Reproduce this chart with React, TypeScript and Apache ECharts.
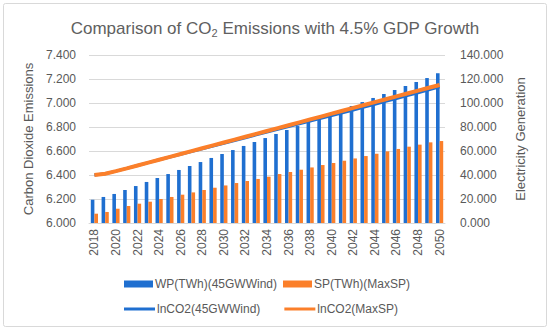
import React, { useEffect, useRef } from "react";
import * as echarts from "echarts";

const years: string[] = [];
for (let y = 2018; y <= 2050; y++) years.push(String(y));

const wpWind = [
  19400, 21700, 24200, 27500, 30800, 34200, 37500, 40800, 44200, 47500, 50800,
  54200, 57500, 60800, 64200, 67500, 70800, 74200, 77500, 80800, 84200, 87500,
  90800, 94200, 97500, 100800, 104200, 107500, 110800, 114200, 117500, 120800, 124800,
];
const spMax = [
  7750, 9200, 11900, 14200, 16100, 17750, 20000, 21700, 23600, 25500, 27500,
  29400, 31300, 33300, 35000, 36700, 38600, 40800, 42500, 44400, 46300, 48300,
  50000, 51900, 53800, 55800, 57700, 59700, 61700, 63600, 65300, 67200, 68300,
];
const lnCO2Max = [
  6.4, 6.411, 6.432, 6.455, 6.479, 6.503, 6.527, 6.551, 6.575, 6.599, 6.623,
  6.647, 6.671, 6.695, 6.719, 6.743, 6.767, 6.791, 6.815, 6.839, 6.863, 6.887,
  6.911, 6.935, 6.959, 6.983, 7.007, 7.031, 7.055, 7.079, 7.103, 7.127, 7.15,
];
const lnCO2Wind = [
  6.4, 6.411, 6.432, 6.455, 6.479, 6.503, 6.527, 6.55, 6.573, 6.596, 6.619,
  6.642, 6.665, 6.688, 6.711, 6.734, 6.757, 6.78, 6.803, 6.826, 6.849, 6.872,
  6.895, 6.918, 6.942, 6.966, 6.99, 7.014, 7.038, 7.062, 7.086, 7.11, 7.134,
];

const BLUE = "#1f6fd0";
const ORANGE = "#fb7f2a";
const FONT = "Liberation Sans";
const GRAY = "#595959";

export default function App() {
  const ref = useRef<HTMLDivElement>(null);
  useEffect(() => {
    if (!ref.current) return;
    const chart = echarts.init(ref.current, undefined, { renderer: "svg" });
    chart.setOption({
      animation: false,
      backgroundColor: "#fff",
      textStyle: { fontFamily: FONT },
      title: {
        text: "Comparison of CO{sub|2} Emissions with 4.5% GDP Growth",
        left: "center",
        top: 14,
        textStyle: {
          fontFamily: FONT,
          fontSize: 17,
          fontWeight: "normal",
          color: "#606060",
          rich: {
            sub: { fontFamily: FONT, fontSize: 11, color: "#606060", verticalAlign: "bottom", padding: [8, 0, 0, 0] },
          },
        },
      },
      graphic: [
        {
          type: "rect",
          shape: { x: 3.5, y: 3.5, width: 543, height: 323, r: 2 },
          style: { fill: "none", stroke: "#d9d9d9", lineWidth: 1 },
          silent: true,
        },
      ],
      legend: [
        {
          left: 119,
          top: 273,
          itemWidth: 29,
          itemHeight: 7,
          itemGap: 6,
          textStyle: { fontFamily: FONT, fontSize: 12, color: GRAY, padding: [0, 0, 0, -3] },
          data: [
            { name: "WP(TWh)(45GWWind)", icon: "rect" },
            { name: "SP(TWh)(MaxSP)", icon: "rect" },
          ],
        },
        {
          left: 119,
          top: 298,
          itemWidth: 31,
          itemHeight: 3,
          itemGap: 24,
          textStyle: { fontFamily: FONT, fontSize: 12, color: GRAY, padding: [0, 0, 0, -3] },
          data: [
            { name: "lnCO2(45GWWind)", icon: "rect" },
            { name: "lnCO2(MaxSP)", icon: "rect" },
          ],
        },
      ],
      grid: { left: 89, right: 105, top: 55, bottom: 108 },
      xAxis: {
        type: "category",
        data: years,
        axisLine: { lineStyle: { color: "#d9d9d9" } },
        axisTick: { show: false },
        axisLabel: {
          interval: 1,
          rotate: 90,
          color: GRAY,
          fontFamily: FONT,
          fontSize: 12,
          margin: 6,
        },
      },
      yAxis: [
        {
          type: "value",
          min: 6,
          max: 7.4,
          interval: 0.2,
          name: "Carbon Dioxide Emissions",
          nameLocation: "middle",
          nameRotate: 90,
          nameGap: 47,
          nameTextStyle: { fontFamily: FONT, fontSize: 13, color: GRAY },
          axisLabel: {
            color: GRAY,
            fontFamily: FONT,
            fontSize: 12,
            margin: 13,
            formatter: (v: number) => v.toFixed(3),
          },
          splitLine: { lineStyle: { color: "#d9d9d9" } },
          axisLine: { show: false },
          axisTick: { show: false },
        },
        {
          type: "value",
          min: 0,
          max: 140000,
          interval: 20000,
          name: "Electricity Generation",
          nameLocation: "middle",
          nameRotate: 90,
          nameGap: 66,
          nameTextStyle: { fontFamily: FONT, fontSize: 13, color: GRAY },
          axisLabel: {
            color: GRAY,
            fontFamily: FONT,
            fontSize: 12,
            margin: 15,
            formatter: (v: number) => (v / 1000).toFixed(3),
          },
          splitLine: { show: false },
          axisLine: { show: false },
          axisTick: { show: false },
        },
      ],
      series: [
        {
          name: "WP(TWh)(45GWWind)",
          type: "bar",
          yAxisIndex: 1,
          data: wpWind,
          barWidth: 3.6,
          barGap: "0%",
          itemStyle: { color: BLUE },
        },
        {
          name: "SP(TWh)(MaxSP)",
          type: "bar",
          yAxisIndex: 1,
          data: spMax,
          barWidth: 3.6,
          barGap: "0%",
          itemStyle: { color: ORANGE },
        },
        {
          name: "lnCO2(45GWWind)",
          type: "line",
          yAxisIndex: 0,
          data: lnCO2Wind,
          showSymbol: false,
          symbol: "none",
          lineStyle: { color: BLUE, width: 3 },
          itemStyle: { color: BLUE },
        },
        {
          name: "lnCO2(MaxSP)",
          type: "line",
          yAxisIndex: 0,
          data: lnCO2Max,
          showSymbol: false,
          symbol: "none",
          lineStyle: { color: ORANGE, width: 4 },
          itemStyle: { color: ORANGE },
        },
      ],
    });
    return () => chart.dispose();
  }, []);
  return (
    <div
      ref={ref}
      style={{ position: "absolute", left: 0, top: 0, width: 550, height: 331 }}
    />
  );
}
